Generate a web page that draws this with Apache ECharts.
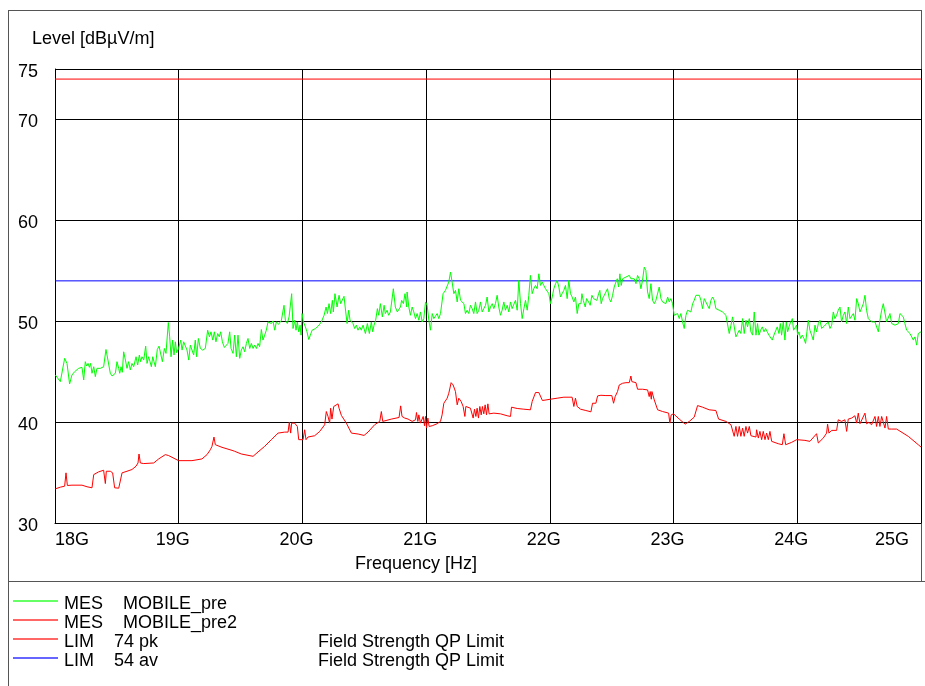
<!DOCTYPE html>
<html><head><meta charset="utf-8">
<script src="https://cdn.jsdelivr.net/npm/echarts@6/dist/echarts.min.js"></script>
<style>html,body{margin:0;padding:0;background:#fff}#c{width:925px;height:686px}</style>
</head><body><div id="c"></div>
<script>
// ---- data (frequency in GHz, level in dBµV/m) ----
const levelTicks = [30, 40, 50, 60, 70, 75];
const freqTicks = [18, 19, 20, 21, 22, 23, 24, 25];
const limitPk = [[18, 74], [25, 74]];
const limitAv = [[18, 54], [25, 54]];

const mobilePreA = [[18.003,44.67],[18.043,44.01],[18.057,43.91],[18.078,46.32],[18.097,45.82],[18.118,43.78],[18.137,44.67],[18.159,45.00],[18.170,44.84],[18.191,45.33],[18.205,45.17],[18.218,45.43],[18.232,44.18],[18.245,45.99],[18.256,45.56],[18.267,45.82],[18.278,45.43],[18.288,45.82],[18.299,44.84],[18.313,45.49],[18.326,44.51],[18.339,45.33],[18.366,45.33],[18.393,45.49],[18.412,47.20],[18.428,46.15],[18.447,44.84],[18.461,44.57],[18.488,44.84],[18.501,45.99],[18.515,45.33],[18.523,44.84],[18.534,45.49],[18.544,44.94],[18.555,46.97],[18.569,46.15],[18.582,45.33],[18.595,45.99],[18.609,45.17],[18.622,45.82],[18.636,45.49],[18.655,46.48],[18.668,45.66],[18.682,46.65],[18.692,45.99],[18.703,46.48],[18.717,46.15],[18.733,47.53],[18.744,45.82],[18.757,46.48],[18.768,45.99],[18.779,45.49],[18.790,46.48],[18.800,45.99],[18.811,45.49],[18.827,47.20],[18.841,47.53],[18.854,47.40],[18.868,45.99],[18.884,47.30],[18.897,46.81],[18.916,49.87],[18.927,48.45],[18.938,46.48],[18.951,48.13],[18.962,46.65],[18.973,47.96],[18.983,46.88],[18.999,47.30],[19.016,48.13],[19.027,47.14],[19.040,47.96],[19.054,48.13],[19.067,47.14],[19.081,46.15],[19.094,47.63],[19.107,47.80],[19.121,46.65],[19.134,48.13],[19.145,46.48],[19.159,48.29],[19.175,47.30],[19.194,47.14],[19.215,47.30],[19.234,49.11],[19.248,48.45],[19.261,48.95],[19.275,48.13],[19.288,48.95],[19.301,47.96],[19.315,48.78],[19.328,48.45],[19.339,48.95],[19.353,47.96],[19.369,47.40],[19.385,47.53],[19.398,47.80],[19.412,48.95],[19.423,47.30]];
const mobilePreB = [[19.439,46.81],[19.452,48.62],[19.466,46.48],[19.479,48.62],[19.493,46.32],[19.506,47.14],[19.520,47.47],[19.533,46.97],[19.547,47.80],[19.560,48.29],[19.574,47.30],[19.587,47.80],[19.601,47.30],[19.614,47.63],[19.628,47.30],[19.641,47.80],[19.654,47.47],[19.668,49.18],[19.681,48.13],[19.695,48.62],[19.708,49.11],[19.722,49.93],[19.735,50.10],[19.749,49.77],[19.762,50.03],[19.776,49.11],[19.789,49.93],[19.808,49.70],[19.830,50.10],[19.851,51.58],[19.862,50.10],[19.878,49.77],[19.892,50.43],[19.913,52.73],[19.924,49.28],[19.938,50.10],[19.948,49.11],[19.959,49.93],[19.970,48.95],[19.981,49.61],[19.989,48.62],[19.997,50.76],[20.008,49.93],[20.024,49.44],[20.037,48.95],[20.051,48.19],[20.064,48.62],[20.078,49.11],[20.094,48.95],[20.107,49.28],[20.121,49.11],[20.134,49.61],[20.153,49.93],[20.175,50.59],[20.191,51.41],[20.202,50.76],[20.215,51.74],[20.228,50.76],[20.242,52.07],[20.250,50.92],[20.263,52.73],[20.280,51.41],[20.296,52.57],[20.309,51.74],[20.323,51.91],[20.336,52.47],[20.350,50.92],[20.361,49.77],[20.374,51.09],[20.385,50.10],[20.396,50.26],[20.409,49.77],[20.422,49.28],[20.436,49.61],[20.449,49.11],[20.463,49.44],[20.476,49.11],[20.490,49.61],[20.509,48.78],[20.525,49.77],[20.541,48.78],[20.557,49.93],[20.568,48.95],[20.579,49.61],[20.592,50.10],[20.606,51.25],[20.617,50.59],[20.630,51.74],[20.646,50.43],[20.660,51.58],[20.670,50.76],[20.684,51.09],[20.697,50.59],[20.711,50.92],[20.735,53.22],[20.751,51.41],[20.767,50.92],[20.778,50.76],[20.792,51.41],[20.802,52.07],[20.816,51.74],[20.829,52.73],[20.843,51.41]];
const mobilePreC = [[20.846,52.90],[20.860,51.41],[20.873,50.59],[20.887,51.41],[20.900,50.92],[20.914,50.26],[20.927,50.76],[20.941,50.10],[20.954,50.92],[20.968,49.93],[20.981,50.26],[20.995,51.91],[21.008,51.58],[21.022,50.10],[21.035,49.11],[21.049,50.76],[21.062,50.26],[21.076,50.43],[21.089,50.76],[21.102,50.26],[21.116,50.76],[21.129,50.92],[21.137,52.73],[21.156,53.06],[21.170,52.90],[21.183,53.88],[21.197,54.87],[21.210,53.88],[21.224,52.73],[21.237,53.06],[21.251,51.91],[21.264,53.22],[21.278,52.07],[21.291,51.91],[21.305,51.74],[21.318,50.76],[21.331,51.09],[21.345,50.76],[21.358,51.58],[21.372,51.25],[21.385,50.76],[21.399,51.91],[21.412,50.76],[21.426,51.09],[21.439,51.91],[21.453,50.92],[21.466,51.25],[21.480,51.58],[21.493,52.40],[21.507,50.92],[21.520,51.41],[21.534,51.74],[21.547,51.25],[21.560,51.74],[21.574,52.57],[21.587,51.41],[21.601,50.59],[21.614,51.09],[21.628,51.91],[21.641,51.09],[21.655,51.58],[21.668,50.92],[21.682,51.91],[21.695,51.25],[21.709,51.41],[21.722,52.07],[21.736,51.09],[21.749,54.05],[21.763,51.74],[21.776,50.26],[21.790,51.25],[21.803,52.07],[21.817,51.09],[21.830,52.57],[21.843,54.54],[21.857,52.73],[21.870,53.22],[21.884,53.55],[21.897,53.22],[21.911,54.70],[21.924,53.55],[21.938,53.88],[21.951,53.55],[21.965,53.22],[21.978,53.06],[21.992,52.73],[22.005,51.74],[22.019,52.40],[22.032,53.22],[22.046,53.72],[22.059,54.05],[22.073,53.39],[22.086,52.40],[22.099,52.73],[22.113,53.06],[22.126,53.55],[22.140,52.24],[22.153,54.05],[22.167,52.73],[22.180,52.40],[22.194,51.91],[22.207,52.40],[22.221,50.76],[22.234,51.74]];
const mobilePreD = [[22.251,51.74],[22.259,52.73],[22.270,52.07],[22.286,51.41],[22.297,52.24],[22.313,51.91],[22.326,51.58],[22.340,52.57],[22.353,52.24],[22.367,52.40],[22.380,52.07],[22.394,52.73],[22.404,53.06],[22.415,51.74],[22.426,52.24],[22.440,52.57],[22.453,52.40],[22.466,53.22],[22.480,52.24],[22.493,51.91],[22.507,52.57],[22.520,53.39],[22.534,53.88],[22.545,54.21],[22.555,53.39],[22.566,54.70],[22.577,53.55],[22.588,54.21],[22.601,54.05],[22.615,54.38],[22.628,54.21],[22.642,54.54],[22.655,54.21],[22.669,54.38],[22.682,54.21],[22.696,53.72],[22.709,54.54],[22.722,54.21],[22.736,53.22],[22.749,54.05],[22.763,55.36],[22.776,55.03],[22.790,52.90],[22.803,52.24],[22.817,53.72],[22.830,52.07],[22.844,51.74],[22.857,52.07],[22.871,52.07],[22.884,53.39],[22.898,52.24],[22.911,51.91],[22.925,52.07],[22.938,51.74],[22.952,52.40],[22.965,51.91],[22.978,52.24],[22.992,51.74],[23.005,50.59],[23.019,50.43],[23.032,50.76],[23.046,50.26],[23.059,50.76],[23.073,49.93],[23.086,49.28],[23.100,50.59],[23.113,51.09],[23.127,51.25],[23.140,50.92],[23.154,51.74],[23.167,52.07],[23.181,52.57],[23.194,52.73],[23.208,52.57],[23.221,52.07],[23.234,51.25],[23.248,52.24],[23.261,51.91],[23.275,51.74],[23.288,51.25],[23.302,52.07],[23.315,52.40],[23.329,52.07],[23.342,51.25],[23.356,51.41],[23.369,51.09],[23.383,50.92],[23.396,50.92],[23.410,50.76],[23.423,50.59],[23.437,50.43],[23.450,48.78],[23.464,49.61],[23.477,50.43],[23.490,50.26],[23.504,48.45],[23.517,48.62],[23.531,49.11],[23.544,48.78],[23.558,50.26],[23.571,48.78],[23.585,50.10],[23.598,49.44],[23.612,50.26],[23.625,48.95],[23.639,48.62],[23.652,50.92],[23.666,48.62],[23.679,49.77]];
const mobilePreE = [[23.690,48.62],[23.704,49.11],[23.717,49.44],[23.731,48.95],[23.744,49.28],[23.757,48.95],[23.771,48.62],[23.784,48.45],[23.798,48.13],[23.811,48.62],[23.825,48.45],[23.838,49.44],[23.852,48.78],[23.863,49.77],[23.873,48.62],[23.887,49.93],[23.900,48.13],[23.911,49.93],[23.922,48.95],[23.933,49.44],[23.946,49.93],[23.960,50.26],[23.970,49.11],[23.981,48.95],[23.995,49.61],[24.003,48.62],[24.013,48.95],[24.027,48.29],[24.040,48.62],[24.054,48.29],[24.067,47.80],[24.078,48.95],[24.089,50.10],[24.102,49.11],[24.116,48.62],[24.129,48.13],[24.143,49.61],[24.156,48.95],[24.170,49.77],[24.183,50.10],[24.197,49.28],[24.210,49.44],[24.224,49.61],[24.237,49.77],[24.251,49.93],[24.264,49.28],[24.278,49.61],[24.291,50.92],[24.304,50.26],[24.318,50.59],[24.331,51.09],[24.345,51.41],[24.358,49.93],[24.372,50.59],[24.385,50.92],[24.399,49.77],[24.412,51.41],[24.426,50.26],[24.439,50.43],[24.453,50.76],[24.466,50.10],[24.480,52.24],[24.493,51.74],[24.507,50.92],[24.520,50.92],[24.534,51.74],[24.547,52.57],[24.560,51.09],[24.574,50.26],[24.587,50.10],[24.601,49.93],[24.614,50.10],[24.628,49.93],[24.641,50.10],[24.655,48.95],[24.668,50.10],[24.682,51.09],[24.695,51.74],[24.709,51.91],[24.722,49.93],[24.736,49.93],[24.749,50.76],[24.763,49.77],[24.776,49.61],[24.790,49.61],[24.803,49.77],[24.817,49.77],[24.830,50.76],[24.843,50.76],[24.857,50.43],[24.870,49.77],[24.884,49.11],[24.897,49.28],[24.911,48.78],[24.924,48.95],[24.938,48.13],[24.951,48.45],[24.965,47.63],[24.978,48.78],[24.992,48.95],[25.000,48.95]];

const mobilePre2A = [[18.003,33.39],[18.043,33.55],[18.078,33.65],[18.089,34.97],[18.100,33.72],[18.137,33.75],[18.218,33.75],[18.259,33.59],[18.299,33.49],[18.313,34.80],[18.353,35.07],[18.393,35.23],[18.407,33.91],[18.415,35.13],[18.447,35.13],[18.466,34.97],[18.482,33.49],[18.515,33.45],[18.528,33.49],[18.542,34.97],[18.582,35.13],[18.622,35.30],[18.655,35.63],[18.671,35.95],[18.679,36.84],[18.690,35.95],[18.717,35.89],[18.798,35.95],[18.838,36.35],[18.892,36.78],[18.919,36.68],[18.999,36.18],[19.107,36.18],[19.188,36.35],[19.229,36.78],[19.256,37.27],[19.269,37.60],[19.285,38.52],[19.296,37.76],[19.350,37.50],[19.431,37.20]];
const mobilePre2B = [[19.452,37.11],[19.506,36.84],[19.601,36.61],[19.641,37.04],[19.695,37.60],[19.749,38.26],[19.803,38.91],[19.857,39.01],[19.884,39.01],[19.894,40.00],[19.905,38.91],[19.913,39.90],[19.937,39.90],[19.959,39.57],[19.970,38.26],[19.986,38.09],[20.005,38.26],[20.018,39.24],[20.029,38.26],[20.045,38.52],[20.099,38.65],[20.140,39.08],[20.180,39.74],[20.193,41.05],[20.207,40.56],[20.220,39.90],[20.228,41.38],[20.239,40.30],[20.253,41.55],[20.266,41.64],[20.288,41.81],[20.296,41.38],[20.315,40.66],[20.355,39.90],[20.396,38.91],[20.450,38.82],[20.498,38.68],[20.530,39.01],[20.584,39.74],[20.625,40.07],[20.638,41.05],[20.649,40.07],[20.719,40.30],[20.781,40.46],[20.794,41.61],[20.805,40.56],[20.827,40.40],[20.854,40.30]];
const mobilePre2C = [[20.860,40.23],[20.887,40.07],[20.914,40.23],[20.922,40.95],[20.933,40.07],[20.941,40.72],[20.954,39.90],[20.968,39.74],[20.976,40.56],[20.987,39.64],[20.995,40.56],[21.003,39.41],[21.014,40.40],[21.024,39.57],[21.049,39.64],[21.089,39.84],[21.116,40.07],[21.129,40.72],[21.143,41.87],[21.170,42.37],[21.183,42.86],[21.202,43.91],[21.218,43.68],[21.237,43.03],[21.251,41.71],[21.264,42.37],[21.283,42.04],[21.299,41.55],[21.313,40.56],[21.321,41.55],[21.337,41.38],[21.358,41.38],[21.372,41.55],[21.380,40.40],[21.391,41.28],[21.402,40.56],[21.412,41.38],[21.423,40.40],[21.434,41.55],[21.445,40.72],[21.455,41.55],[21.466,40.82],[21.477,41.71],[21.488,40.72],[21.499,41.81],[21.509,40.82],[21.547,40.89],[21.601,40.82],[21.655,40.63],[21.682,40.56],[21.690,41.48],[21.736,41.35],[21.790,41.28],[21.843,41.22],[21.857,42.04],[21.884,42.93],[21.911,42.93],[21.924,42.99],[21.940,42.14],[22.005,42.27],[22.059,42.37],[22.113,42.47],[22.180,42.47],[22.194,41.55],[22.207,42.37],[22.221,41.55],[22.248,41.28]];
const mobilePre2D = [[22.291,41.15],[22.332,41.02],[22.345,41.87],[22.372,41.87],[22.386,42.60],[22.413,42.66],[22.453,42.63],[22.501,42.63],[22.515,41.87],[22.528,42.53],[22.547,43.03],[22.561,43.68],[22.588,43.85],[22.615,43.91],[22.642,43.91],[22.655,44.57],[22.663,44.01],[22.696,43.91],[22.709,43.26],[22.749,43.26],[22.790,43.19],[22.803,42.53],[22.811,43.03],[22.820,42.27],[22.825,43.03],[22.844,42.20],[22.871,41.22],[22.911,41.05],[22.960,40.89],[22.970,39.90],[22.981,40.72],[23.000,40.82],[23.046,40.30],[23.094,39.80],[23.127,40.07],[23.167,40.49],[23.194,41.64],[23.234,41.48],[23.288,41.22],[23.342,41.15],[23.364,40.30],[23.423,40.07],[23.464,39.74],[23.477,39.57],[23.490,38.59],[23.504,39.57],[23.517,38.59],[23.531,39.57],[23.544,38.59],[23.558,39.41],[23.571,38.59],[23.585,39.57],[23.598,38.91],[23.612,39.57],[23.625,38.65],[23.639,38.59],[23.666,38.52]];
const mobilePre2E = [[23.671,39.24],[23.685,38.42],[23.698,39.08],[23.712,38.26],[23.725,39.08],[23.739,38.26],[23.752,38.91],[23.766,38.26],[23.779,39.08],[23.793,38.09],[23.806,37.93],[23.846,37.86],[23.879,37.76],[23.892,38.85],[23.906,37.76],[23.954,37.99],[23.995,38.26],[24.062,38.19],[24.102,38.09],[24.156,38.85],[24.170,37.93],[24.210,38.42],[24.237,38.91],[24.245,39.80],[24.256,38.91],[24.278,39.18],[24.318,39.18],[24.331,40.23],[24.358,40.07],[24.385,40.23],[24.399,39.08],[24.412,40.30],[24.439,40.40],[24.466,40.63],[24.480,39.90],[24.493,40.89],[24.507,39.84],[24.520,39.90],[24.547,40.89],[24.560,39.84],[24.579,39.97],[24.601,39.74],[24.628,40.56],[24.641,39.57],[24.655,40.56],[24.668,39.57],[24.682,40.56],[24.695,40.40],[24.709,39.41],[24.722,40.56],[24.736,39.31],[24.763,39.31],[24.803,39.31],[24.897,38.59],[24.978,37.76],[25.000,37.53]];

const legendKinds = ['MES', 'MES', 'LIM', 'LIM'];
const legendNames = ['MOBILE_pre', 'MOBILE_pre2', '74 pk', '54 av'];
const legendDescs = ['', '', 'Field Strength QP Limit', 'Field Strength QP Limit'];
const legendColors = ['#00ff00', '#ff0000', '#ff0000', '#0000ff'];

const mobilePre = [].concat(mobilePreA, mobilePreB, mobilePreC, mobilePreD, mobilePreE);
const mobilePre2 = [].concat(mobilePre2A, mobilePre2B, mobilePre2C, mobilePre2D, mobilePre2E);

const FONT = '"Liberation Sans", Arial, Helvetica, sans-serif';
const chart = echarts.init(document.getElementById('c'), null, { renderer: 'canvas' });

const graphics = [];
const frameColor = '#555';
function rect(x, y, w, h, color, op) {
  graphics.push({ type: 'rect', silent: true, shape: { x: x, y: y, width: w, height: h }, style: { fill: color, stroke: null, lineWidth: 0, opacity: op == null ? 1 : op } });
}
function text(x, y, s, align) {
  graphics.push({ type: 'text', silent: true, x: x, y: y, style: { text: s, font: '18px ' + FONT, fill: '#000', textAlign: align || 'left', textVerticalAlign: 'middle' } });
}
rect(8, 10, 914, 1, frameColor);      // top frame
rect(8, 10, 1, 676, frameColor);      // left frame
rect(921, 10, 1, 571, frameColor);    // right frame
rect(8, 581, 917, 1, frameColor);     // separator
text(32, 39, 'Level [dBµV/m]');
text(355, 564, 'Frequency [Hz]');
const rowY = [604, 623, 642, 661];
legendNames.forEach(function (n, i) {
  rect(13, rowY[i] - 4, 45, 2, legendColors[i], 0.6);
  text(64, rowY[i], legendKinds[i]);
  text(legendKinds[i] === 'MES' ? 123 : 114, rowY[i], n);
  if (legendDescs[i]) text(318, rowY[i], legendDescs[i]);
});

chart.setOption({
  animation: false,
  backgroundColor: '#fff',
  textStyle: { fontFamily: FONT },
  grid: { left: 55, right: 4, top: 69, bottom: 163, containLabel: false, outerBoundsMode: 'none' },
  xAxis: {
    type: 'value', min: freqTicks[0], max: freqTicks[freqTicks.length - 1], interval: 1,
    axisLine: { show: true, lineStyle: { color: '#000', width: 1 } },
    axisTick: { show: false },
    splitLine: { show: true, lineStyle: { color: '#000', width: 1 } },
    axisLabel: {
      color: '#000', fontSize: 18, fontFamily: FONT, margin: 8,
      padding: [0, 12, 0, 0], alignMinLabel: 'left', alignMaxLabel: 'right',
      formatter: function (v) { return freqTicks.indexOf(v) >= 0 ? v + 'G' : ''; }
    }
  },
  yAxis: {
    type: 'value', min: levelTicks[0], max: levelTicks[levelTicks.length - 1], interval: 10,
    axisLine: { show: true, lineStyle: { color: '#000', width: 1 } },
    axisTick: { show: false },
    splitLine: { show: true, lineStyle: { color: '#000', width: 1 } },
    axisLabel: { color: '#000', fontSize: 18, fontFamily: FONT, margin: 17, verticalAlign: 'top', lineHeight: 6 }
  },
  series: [
    { name: '74 pk', type: 'line', data: limitPk, showSymbol: false, lineStyle: { color: '#ff0000', width: 1 }, silent: true },
    { name: '54 av', type: 'line', data: limitAv, showSymbol: false, lineStyle: { color: '#0000ff', width: 1 }, silent: true },
    { name: 'MOBILE_pre2', type: 'line', data: mobilePre2, showSymbol: false, lineStyle: { color: '#ff0000', width: 1 }, silent: true },
    { name: 'MOBILE_pre', type: 'line', data: mobilePre, showSymbol: false, lineStyle: { color: '#00ff00', width: 1 }, silent: true }
  ],
  graphic: graphics
});
</script>
</body></html>
